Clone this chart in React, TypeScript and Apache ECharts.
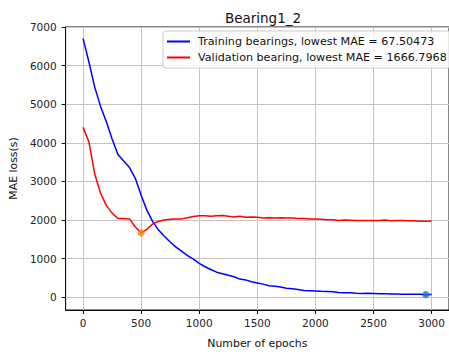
import React, { useEffect, useRef } from "react";
import * as echarts from "echarts";

const epochs = [
  0, 50, 100, 150, 200, 250, 300, 350, 400, 450, 500, 550, 600, 650, 700, 750, 800, 850, 900, 950,
  1000, 1050, 1100, 1150, 1200, 1250, 1300, 1350, 1400, 1450, 1500, 1550, 1600, 1650, 1700, 1750,
  1800, 1850, 1900, 1950, 2000, 2050, 2100, 2150, 2200, 2250, 2300, 2350, 2400, 2450, 2500, 2550,
  2600, 2650, 2700, 2750, 2800, 2850, 2900, 2950, 3000,
];

const trainingLoss = [
  6700, 6100, 5450, 4950, 4550, 4100, 3700, 3530, 3360, 3080, 2640, 2250, 1960, 1740, 1580, 1430,
  1300, 1190, 1080, 990, 880, 790, 720, 650, 610, 570, 530, 470, 450, 400, 370, 340, 300, 285, 265,
  235, 220, 200, 175, 170, 165, 155, 148, 140, 125, 120, 115, 105, 100, 102, 98, 93, 90, 87, 84, 80,
  78, 77, 75, 67.5, 72,
];

const validationLoss = [
  4400, 4030, 3200, 2700, 2380, 2180, 2040, 2040, 2030, 1820, 1667, 1760, 1900, 1970, 2000, 2020,
  2030, 2030, 2060, 2090, 2110, 2110, 2100, 2110, 2120, 2100, 2080, 2100, 2070, 2080, 2070, 2050,
  2060, 2050, 2060, 2050, 2050, 2040, 2040, 2030, 2030, 2020, 2010, 2010, 1990, 2000, 1995, 1990,
  1990, 1985, 1985, 1990, 2000, 1980, 1985, 1990, 1980, 1980, 1970, 1970, 1975,
];

const bestValidation: [number, number] = [500, 1666.7968];
const bestTraining: [number, number] = [2950, 67.50473];

const xTicks = [0, 500, 1000, 1500, 2000, 2500, 3000];
const yTicks = [0, 1000, 2000, 3000, 4000, 5000, 6000, 7000];

const trainingName = "Training bearings, lowest MAE = 67.50473";
const validationName = "Validation bearing, lowest MAE = 1666.7968";

const FONT = "DejaVu Sans";
const plain = (v: number) => String(v);

export default function App() {
  const ref = useRef<HTMLDivElement>(null);
  useEffect(() => {
    if (!ref.current) return;
    const chart = echarts.init(ref.current, null, { renderer: "svg" });
    chart.setOption({
      animation: false,
      backgroundColor: "#ffffff",
      textStyle: { fontFamily: FONT },
      title: {
        text: "Bearing1_2",
        left: 258,
        textAlign: "center",
        top: 6,
        textStyle: { fontFamily: FONT, fontSize: 13.5, fontWeight: "normal", color: "#111" },
      },
      grid: {
        left: 63,
        top: 27,
        right: -4,
        bottom: 36,
        show: true,
        borderColor: "#111",
        borderWidth: 1,
        backgroundColor: "transparent",
      },
      legend: {
        orient: "vertical",
        left: 163,
        top: 31,
        padding: [4, 4, 4, 4],
        itemGap: 3,
        itemWidth: 23,
        itemHeight: 2,
        icon: "rect",
        backgroundColor: "rgba(255,255,255,0.8)",
        borderColor: "#cccccc",
        borderWidth: 1,
        borderRadius: 3,
        textStyle: {
          fontFamily: FONT,
          fontSize: 11.15,
          color: "#111",
          lineHeight: 13,
          padding: [0, 0, 0, 3],
        },
        data: [trainingName, validationName],
      },
      xAxis: {
        type: "value",
        min: -150,
        max: 3150,
        name: "Number of epochs",
        nameLocation: "middle",
        nameGap: 28,
        nameTextStyle: { fontFamily: FONT, fontSize: 10.9, color: "#111" },
        axisLine: { show: true, onZero: false, lineStyle: { color: "#111", width: 1 } },
        axisTick: { show: true, length: 4, lineStyle: { color: "#111" }, customValues: xTicks },
        axisLabel: {
          fontFamily: FONT,
          fontSize: 10.5,
          color: "#222",
          margin: 7,
          customValues: xTicks,
          formatter: plain,
        },
        splitLine: { show: true, lineStyle: { color: "#c4c4c4", width: 1 } },
      },
      yAxis: {
        type: "value",
        min: -330,
        max: 7000,
        name: "MAE loss(s)",
        nameLocation: "middle",
        nameGap: 45,
        nameTextStyle: { fontFamily: FONT, fontSize: 10.9, color: "#111" },
        axisLine: { show: true, onZero: false, lineStyle: { color: "#111", width: 1 } },
        axisTick: { show: true, length: 4, lineStyle: { color: "#111" }, customValues: yTicks },
        axisLabel: {
          fontFamily: FONT,
          fontSize: 10.5,
          color: "#222",
          margin: 9,
          customValues: yTicks,
          formatter: plain,
        },
        splitLine: { show: true, lineStyle: { color: "#c4c4c4", width: 1 } },
      },
      series: [
        {
          name: trainingName,
          type: "line",
          data: epochs.map((e, i) => [e, trainingLoss[i]]),
          showSymbol: false,
          symbol: "none",
          lineStyle: { color: "#0000ff", width: 1.5 },
          itemStyle: { color: "#0000ff" },
          z: 3,
        },
        {
          name: validationName,
          type: "line",
          data: epochs.map((e, i) => [e, validationLoss[i]]),
          showSymbol: false,
          symbol: "none",
          lineStyle: { color: "#ff0000", width: 1.5 },
          itemStyle: { color: "#ff0000" },
          z: 3,
        },
        {
          type: "scatter",
          data: [bestValidation],
          symbolSize: 7,
          itemStyle: { color: "#ff7f0e" },
          z: 4,
        },
        {
          type: "scatter",
          data: [bestTraining],
          symbolSize: 7,
          itemStyle: { color: "#1f77b4" },
          z: 4,
        },
      ],
    });
    return () => chart.dispose();
  }, []);
  return (
    <div
      ref={ref}
      style={{ position: "fixed", left: 0, top: 0, width: 449, height: 354, background: "#fff" }}
    />
  );
}
